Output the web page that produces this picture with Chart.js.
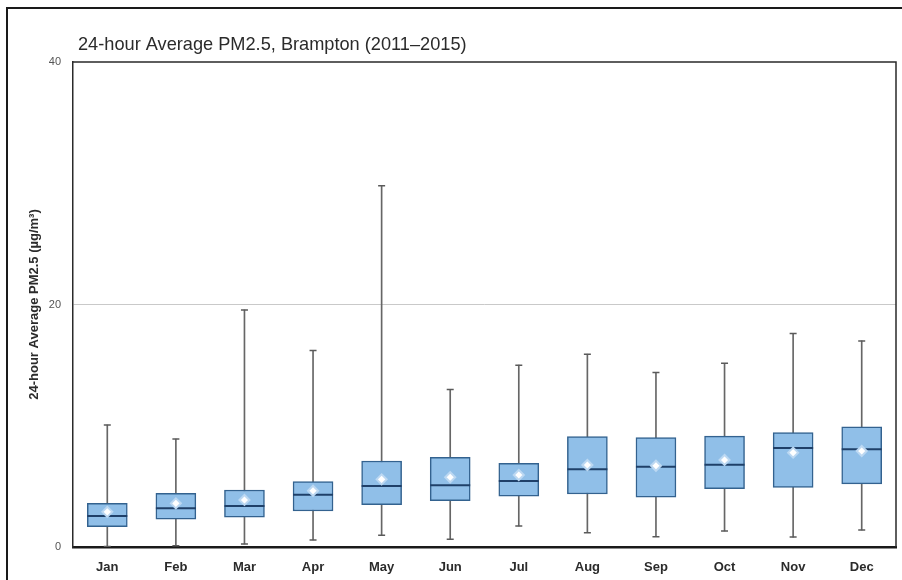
<!DOCTYPE html>
<html>
<head>
<meta charset="utf-8">
<title>24-hour Average PM2.5, Brampton (2011–2015)</title>
<script src="https://cdn.jsdelivr.net/npm/chart.js@4.4.1/dist/chart.umd.min.js"></script>
<style>
  html, body { margin: 0; padding: 0; background: #fff; overflow: hidden; }
  #wrap { position: relative; width: 902px; height: 580px; }
  #frame {
    position: absolute; left: 6px; top: 7px; width: 1000px; height: 571px;
    border-top: 2px solid #1a1a1a; border-left: 2px solid #1a1a1a; border-bottom: 1px solid #cfcfcf;
  }
  canvas { position: absolute; left: 0; top: 0; }
</style>
</head>
<body>
<div id="wrap">
  <div id="frame"></div>
  <canvas id="c" width="902" height="580"></canvas>
</div>
<script>
// Monthly distribution of 24-hour average PM2.5 (µg/m³), 2011–2015
const months = ['Jan', 'Feb', 'Mar', 'Apr', 'May', 'Jun', 'Jul', 'Aug', 'Sep', 'Oct', 'Nov', 'Dec'];
const whiskerLow  = [0.05, 0.10, 0.25, 0.58, 0.96, 0.63, 1.73, 1.18, 0.85, 1.32, 0.82, 1.40];
const q1          = [1.67, 2.30, 2.45, 2.97, 3.49, 3.82, 4.20, 4.37, 4.10, 4.81, 4.92, 5.20];
const median      = [2.56, 3.19, 3.38, 4.31, 5.03, 5.09, 5.44, 6.41, 6.62, 6.79, 8.16, 8.06];
const q3          = [3.60, 4.43, 4.70, 5.39, 7.09, 7.40, 6.90, 9.10, 9.02, 9.15, 9.43, 9.92];
const mean        = [2.90, 3.60, 3.88, 4.64, 5.58, 5.75, 5.94, 6.76, 6.70, 7.18, 7.78, 7.92];
const whiskerHigh = [10.06, 8.90, 19.55, 16.20, 29.80, 13.00, 15.00, 15.90, 14.40, 15.15, 17.60, 17.00];
const yTicks = [0, 20, 40];

const chartTitle = '24-hour Average PM2.5, Brampton (2011–2015)';
const yTitle = '24-hour Average PM2.5 (µg/m³)';

// Title above the plot and the thin top/right frame of the plot area
const framePlugin = {
  id: 'plotFrame',
  afterDraw(chart) {
    const { ctx, chartArea: a } = chart;
    ctx.save();
    ctx.strokeStyle = '#2a2a2a';
    ctx.lineWidth = 1.5;
    ctx.beginPath();
    ctx.moveTo(a.left, a.top);
    ctx.lineTo(a.right, a.top);
    ctx.lineTo(a.right, a.bottom);
    ctx.stroke();
    ctx.fillStyle = '#2b2b2b';
    ctx.font = '18.2px "Liberation Sans", Arial, sans-serif';
    ctx.textAlign = 'left';
    ctx.textBaseline = 'alphabetic';
    ctx.fillText(chartTitle, a.left + 5, a.top - 12);
    ctx.restore();
  }
};

const pairs = (lo, hi) => lo.map((v, i) => [v, hi[i]]);

new Chart(document.getElementById('c'), {
  data: {
    labels: months,
    datasets: [
      {
        type: 'line', label: 'Mean', data: mean, order: 0, showLine: false,
        pointStyle: 'rectRot', pointRadius: 5, pointBackgroundColor: '#ffffff',
        pointBorderColor: '#bcd8f2', pointBorderWidth: 2
      },
      {
        type: 'line', label: 'Median', data: median, order: 1, showLine: false,
        pointStyle: 'line', pointRadius: 20, pointBorderColor: '#1f4069', pointBorderWidth: 2
      },
      {
        type: 'bar', label: 'Interquartile range', data: pairs(q1, q3), order: 2, grouped: false,
        barThickness: 40, backgroundColor: '#90bfe8', borderColor: '#33628f', borderWidth: 1.5,
        borderSkipped: false
      },
      {
        type: 'line', label: 'Whisker high', data: whiskerHigh, order: 3, showLine: false,
        pointStyle: 'line', pointRadius: 3.5, pointBorderColor: '#5a5a5a', pointBorderWidth: 1.5
      },
      {
        type: 'line', label: 'Whisker low', data: whiskerLow, order: 3, showLine: false,
        pointStyle: 'line', pointRadius: 3.5, pointBorderColor: '#5a5a5a', pointBorderWidth: 1.5
      },
      {
        type: 'bar', label: 'Range', data: pairs(whiskerLow, whiskerHigh), order: 4, grouped: false,
        barThickness: 1, backgroundColor: '#666666', borderWidth: 0
      }
    ]
  },
  options: {
    responsive: false,
    animation: false,
    layout: { autoPadding: false, padding: { left: 0, top: 62, right: 6, bottom: 0 } },
    plugins: { legend: { display: false }, tooltip: { enabled: false }, title: { display: false } },
    scales: {
      x: {
        type: 'category',
        offset: true,
        grid: { display: false, drawTicks: false },
        border: { display: true, color: '#1a1a1a', width: 2.5 },
        ticks: {
          padding: 13,
          color: '#2b2b2b',
          font: { family: '"Liberation Sans", Arial, sans-serif', size: 13, weight: 'bold' }
        },
        afterFit(scale) { scale.height = 33; }
      },
      y: {
        min: 0, max: 40,
        afterBuildTicks(scale) { scale.ticks = yTicks.map(v => ({ value: v })); },
        grid: {
          drawTicks: false,
          color: ctx => (ctx.tick && ctx.tick.value === 20 ? '#c9c9c9' : 'rgba(0,0,0,0)'),
          lineWidth: 1
        },
        border: { display: true, color: '#2a2a2a', width: 1.5 },
        ticks: {
          padding: 12,
          color: '#555555',
          font: { family: '"Liberation Sans", Arial, sans-serif', size: 11 }
        },
        title: {
          display: true,
          text: yTitle,
          color: '#2b2b2b',
          padding: { top: 27, bottom: 0 },
          font: { family: '"Liberation Sans", Arial, sans-serif', size: 13, weight: 'bold' }
        },
        afterFit(scale) { scale.width = 73; }
      }
    }
  },
  plugins: [framePlugin]
});
</script>
</body>
</html>
